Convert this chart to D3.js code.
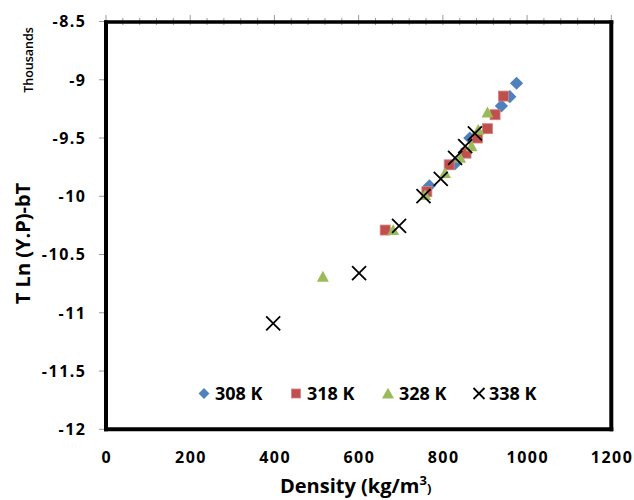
<!DOCTYPE html>
<html><head><meta charset="utf-8">
<script src="https://cdn.jsdelivr.net/npm/d3@7"></script>
<style>body{margin:0;background:#fff}svg{display:block}text{font-family:"Open Sans",sans-serif}</style>
</head><body><svg id="c" width="634" height="500"></svg>
<script>
// values in thousands
const series = ["308 K","318 K","328 K","338 K"];
const x308 = [975, 959, 939, 864, 829, 768];
const y308 = [-9.03, -9.145, -9.225, -9.50, -9.72, -9.91];
const x318 = [663, 762, 815, 855, 882, 906, 924, 944];
const y318 = [-10.29, -9.96, -9.73, -9.63, -9.50, -9.42, -9.30, -9.14];
const x328 = [515, 682, 758, 805, 841, 868, 884, 906];
const y328 = [-10.69, -10.29, -9.99, -9.80, -9.67, -9.57, -9.43, -9.28];
const x338 = [397, 601, 696, 754, 795, 829, 853, 876];
const y338 = [-11.09, -10.66, -10.255, -9.998, -9.85, -9.67, -9.57, -9.46];
const xTicks = [0,200,400,600,800,1000,1200];
const yTicks = [-8.5,-9,-9.5,-10,-10.5,-11,-11.5,-12];

const svg = d3.select("#c");
const L=106, R=611.3, T=21.5, B=429.3;
const x = d3.scaleLinear().domain([0,1200]).range([L,R]);
const y = d3.scaleLinear().domain([-12,-8.5]).range([B,T]);

// top axis ticks (major + minor)
const topMinor = d3.range(0,1201,40);
svg.append("g").selectAll("line").data(topMinor).join("line")
  .attr("x1",d=>x(d)).attr("x2",d=>x(d))
  .attr("y1",d=>d%200===0?15:18).attr("y2",25)
  .attr("stroke","#999").attr("stroke-width",1);
// left ticks
svg.append("g").selectAll("line").data(yTicks).join("line")
  .attr("x1",99).attr("x2",L).attr("y1",d=>y(d)).attr("y2",d=>y(d))
  .attr("stroke","#999").attr("stroke-width",1);

// frame
svg.append("line").attr("x1",L-2).attr("x2",R+2).attr("y1",T+0.5).attr("y2",T+0.5).attr("stroke","#000").attr("stroke-width",3.5);
svg.append("line").attr("x1",L-2).attr("x2",R+2).attr("y1",B).attr("y2",B).attr("stroke","#000").attr("stroke-width",4);
svg.append("line").attr("x1",L).attr("x2",L).attr("y1",T-1).attr("y2",B+2).attr("stroke","#000").attr("stroke-width",4);
svg.append("line").attr("x1",R).attr("x2",R).attr("y1",T-1).attr("y2",B+2).attr("stroke","#000").attr("stroke-width",4);

// tick labels
svg.append("g").selectAll("text").data(yTicks).join("text")
  .attr("x",86.5).attr("y",d=>y(d)+5.8).attr("text-anchor","end")
  .attr("font-size",16).attr("font-weight",700).attr("letter-spacing",1.5)
  .text(d=>String(d));
svg.append("g").selectAll("text").data(xTicks).join("text")
  .attr("x",d=>x(d)+0.75).attr("y",463).attr("text-anchor","middle")
  .attr("font-size",16).attr("font-weight",700).attr("letter-spacing",1.5)
  .text(d=>String(d));

// axis titles
svg.append("text").attr("transform","translate(30,243.5) rotate(-90)").attr("text-anchor","middle")
  .attr("font-size",20).attr("font-weight",700).text("T Ln (Y.P)-bT");
svg.append("text").attr("transform","translate(33,60) rotate(-90)").attr("text-anchor","middle")
  .attr("font-size",12.5).attr("font-weight",600).text("Thousands");
const xt = svg.append("text").attr("x",280).attr("y",493).attr("font-size",20).attr("font-weight",700);
xt.append("tspan").text("Density (kg/m");
xt.append("tspan").attr("font-size",13).attr("dy",-8).text("3");
xt.append("tspan").attr("font-size",13).attr("dy",8).text(")");

// markers
const colors = ["#4F81BD","#C0504D","#9BBB59","#000"];
function drawMarker(g, k, cx, cy, s){
  if(k===0){
    g.append("path").attr("d",`M${cx},${cy-s*0.6}L${cx+s*0.6},${cy}L${cx},${cy+s*0.6}L${cx-s*0.6},${cy}Z`).attr("fill",colors[0]);
  } else if(k===1){
    g.append("rect").attr("x",cx-s/2).attr("y",cy-s/2).attr("width",s).attr("height",s).attr("fill",colors[1]).attr("stroke","#d9807e").attr("stroke-width",0.8);
  } else if(k===2){
    g.append("path").attr("d",`M${cx},${cy-s*0.58}L${cx+s*0.6},${cy+s*0.5}L${cx-s*0.6},${cy+s*0.5}Z`).attr("fill",colors[2]);
  } else {
    const h=s*0.5;
    g.append("path").attr("d",`M${cx-h},${cy-h}L${cx+h},${cy+h}M${cx+h},${cy-h}L${cx-h},${cy+h}`).attr("stroke","#000").attr("stroke-width",1.8).attr("fill","none");
  }
}
const xs=[x308,x318,x328,x338], ys=[y308,y318,y328,y338];
const sizes=[11,10,10,14];
const pg = svg.append("g");
xs.forEach((xv,k)=>{
  xv.forEach((v,i)=>drawMarker(pg,k,x(v),y(ys[k][i]),sizes[k]));
});

// legend
const legX=[204,296,388,479];
const lg = svg.append("g");
series.forEach((s,k)=>{
  drawMarker(lg,k,legX[k],393.5,[9,9,10,11][k]);
  lg.append("text").attr("x",legX[k]+(k===3?10:11)).attr("y",400).attr("font-size",18).attr("font-weight",700).text(s);
});
</script></body></html>
